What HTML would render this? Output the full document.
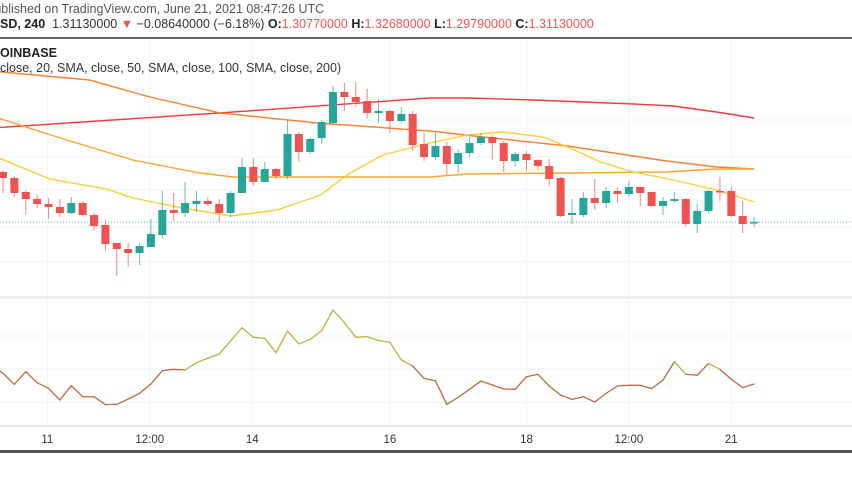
<!DOCTYPE html>
<html><head><meta charset="utf-8"><style>
html,body{margin:0;padding:0;background:#fff;width:852px;height:485px;overflow:hidden;font-family:"Liberation Sans",Arial,sans-serif;}
.t{position:absolute;white-space:nowrap;font-size:12.5px;color:#444;}
.r{color:#ef5350}
b{color:#222}
</style></head><body>
<div class="t" style="left:-14px;top:2px;color:#555">Published on TradingView.com, June 21, 2021 08:47:26 UTC</div>
<div class="t" style="left:0;top:17px;color:#333"><b>SD, 240</b>&nbsp; 1.31130000 <span class="r">▼</span> −0.08640000 (−6.18%) <b>O:</b><span class="r">1.30770000</span> <b>H:</b><span class="r">1.32680000</span> <b>L:</b><span class="r">1.29790000</span> <b>C:</b><span class="r">1.31130000</span></div>
<div style="position:absolute;left:0;top:37px;width:852px;height:2px;background:#666"></div>
<svg id="chart" width="852" height="485" style="position:absolute;left:0;top:0" xmlns="http://www.w3.org/2000/svg"></svg>
<div class="t" style="left:0;top:46px;font-weight:bold;color:#222">OINBASE</div>
<div class="t" style="left:0;top:61px;color:#333">close, 20, SMA, close, 50, SMA, close, 100, SMA, close, 200)</div>
<div style="position:absolute;left:0;top:450px;width:852px;height:3px;background:#555"></div>
<script>
const opens=[128,122,108,101,96,93,87,97,85,75,57,51,47,53,65,90,87,96,99,96,87,107,133,118,131,124,166,148,162,177,208,203,199,187,189,179,186,156,143,154,136,147,157,163,157,139,146,140,134,122,85,85,102,97,109,106,113,108,94,99,101,76,89,109,109,84,77];
const closes=[122,107,101,96,93,87,97,85,74,56,51,47,54,66,90,87,97,99,96,87,107,133,118,131,124,166,148,161,178,208,203,198,187,189,179,186,155,143,154,136,147,157,163,157,139,146,140,134,121,84,87,102,97,109,106,113,107,94,99,101,76,89,109,108,84,76,78];
const highs=[130,124,110,106,102,101,103,99,87,80,57,57,57,81,109,107,118,109,103,101,109,142,142,138,132,180,168,163,180,214,217,218,211,201,190,193,189,167,167,158,151,163,167,165,159,148,149,141,141,123,101,108,121,113,113,119,113,108,103,108,102,96,110,123,113,99,83];
const lows=[107,103,86,92,81,83,86,84,69,49,24,33,35,53,62,79,83,88,94,78,83,107,114,118,121,121,138,146,156,177,189,193,182,177,167,177,149,139,140,125,127,143,155,140,128,133,129,130,114,83,76,83,90,92,97,103,94,93,85,97,73,67,87,99,83,67,73];
const sma200Idx=[-1,19,37.5,40.8,46.6,55.4,58.9,62.7,66];
const sma200=[172,187,202,202,200,196,194,188,182];
const sma100Idx=[-1,7.6,12.9,19.1,27.6,37.5,42.2,49.6,58.3,62.7,66];
const sma100=[229,220,203,187,177,169,163,154,139,133,131];
const sma50Idx=[-1,5.6,11.4,17.3,20.2,37.5,40.8,49.6,58.3,62.7,66];
const sma50=[184,160,140,127,123,123,126,127,128,131,131];
const sma20Idx=[-1,4.1,9.1,11.4,15.8,20,24.1,27.9,30.5,33.4,37.5,40.8,43.9,47.5,49.6,52.5,55.4,58.9,62.7,66];
const sma20=[145,121,111,102,92,84,90,105,127,145,157,165,168,163,153,138,128,120,110,98];
const rsi=[52.4,47.4,40.7,48.4,41.7,38.3,31.2,39.9,33.2,33.2,28.4,28.6,31.8,35.3,40.9,49.0,49.8,49.4,53.8,56.5,59.1,67.0,75.0,69.2,68.6,59.9,73.0,65.2,68.0,73.2,85.8,78.1,69.2,69.6,67.2,66.2,55.5,51.8,44.3,42.9,28.6,32.8,37.7,42.7,40.3,37.9,37.7,45.3,46.8,39.7,34.2,31.6,33.2,30.0,35.3,39.7,40.1,40.1,38.1,43.3,54.4,46.8,46.2,53.4,49.8,43.8,38.7,40.9];
const xTicks=["11","12:00","14","16","18","12:00","21"];
const xTickIdx=[3.9,12.9,21.9,34,46,55,64];
const priceGrid=[180,143,110,73,38];
const rsiGrid=[70,50,30];

const NS="http://www.w3.org/2000/svg";
const svg=document.getElementById('chart');
const xS=i=>3+i*11.38;
const yS=v=>300-v;
const yR=v=>369-(v-50)*1.65;
function mk(t,a){const e=document.createElementNS(NS,t);for(const k in a)e.setAttribute(k,a[k]);svg.appendChild(e);return e;}
// grids
xTickIdx.forEach((ti,k)=>{
  const g=mk('line',{x1:xS(ti),x2:xS(ti),y1:40,y2:426,stroke:'#f0f3fa','stroke-width':1});
  
  
  const t=mk('text',{x:xS(ti),y:443,'text-anchor':'middle','font-size':'11.5','font-family':'Liberation Sans, sans-serif',fill:'#333'});
  t.textContent=xTicks[k];
  
  
});
priceGrid.forEach(v=>{
  const g=mk('line',{x1:0,x2:852,y1:yS(v),y2:yS(v),stroke:'#f0f3fa','stroke-width':1});
  
  
});
rsiGrid.forEach(v=>{
  const g=mk('line',{x1:0,x2:852,y1:yR(v),y2:yR(v),stroke:'#f0f3fa','stroke-width':1});
  
  
});
const sep=mk('rect',{x:0,y:296,width:852,height:3,fill:'#eceef2'});


const ax=mk('line',{x1:0,x2:852,y1:426,y2:426,stroke:'#e0e3eb','stroke-width':1.5});


// MAs
function ma(idx,vals,col,name){
  const p=mk('polyline',{points:idx.map((i,k)=>xS(i)+','+yS(vals[k])).join(' '),fill:'none',stroke:col,'stroke-width':1.4});
  
  
}
ma(sma200Idx,sma200,'#f23b3b','sma-200-line');
ma(sma100Idx,sma100,'#f7812f','sma-100-line');
ma(sma50Idx,sma50,'#f9a530','sma-50-line');
ma(sma20Idx,sma20,'#f9cd3a','sma-20-line');
// last price line
const lp=mk('line',{x1:0,x2:852,y1:yS(closes[closes.length-1]),y2:yS(closes[closes.length-1]),stroke:'#26a69a','stroke-width':1,'stroke-dasharray':'1,2',opacity:0.8});


// candles
opens.forEach((o,i)=>{
  const c=closes[i],up=c>=o,col=up?'#26a69a':'#ef5350',x=xS(i);
  const w=mk('line',{x1:x,x2:x,y1:yS(highs[i]),y2:yS(lows[i]),stroke:col,'stroke-width':1,opacity:0.7});
  
  
  const top=yS(Math.max(o,c)),h=Math.max(1.5,Math.abs(o-c));
  const b=mk('rect',{x:x-4,y:top,width:8,height:h,fill:col});
  
  
});
// RSI
for(let i=1;i<rsi.length;i++){
  const v=(rsi[i]+rsi[i-1])/2;
  const s=mk('line',{x1:xS(i-2),x2:xS(i-1),y1:yR(rsi[i-1]),y2:yR(rsi[i]),stroke:v>50?'#c4ad3c':'#bd6a3c','stroke-width':1.3,'stroke-linecap':'round'});
  
  
}
</script>
</body></html>
